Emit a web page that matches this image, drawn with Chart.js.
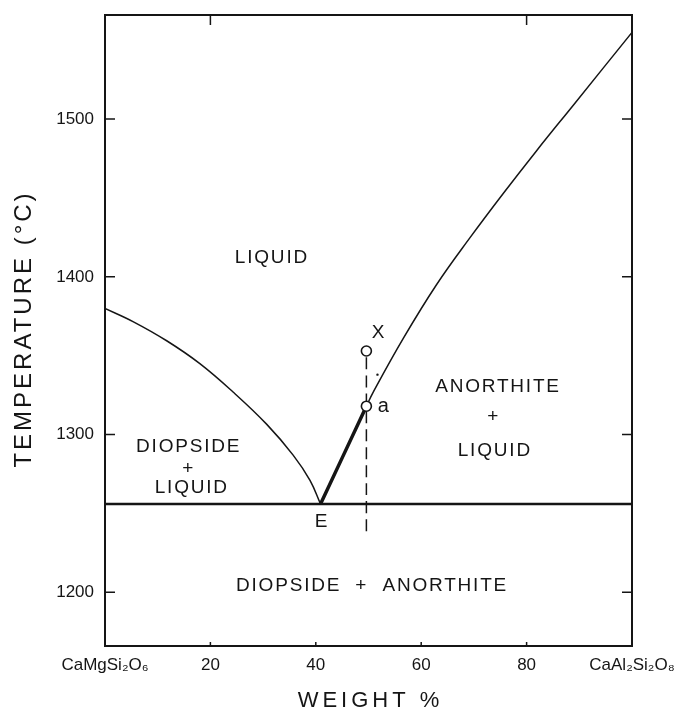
<!DOCTYPE html>
<html>
<head>
<meta charset="utf-8">
<script src="https://cdn.jsdelivr.net/npm/chart.js@4.4.1/dist/chart.umd.min.js"></script>
<style>
  html, body { margin: 0; padding: 0; background: #fff; }
  #wrap { width: 692px; height: 713px; }
</style>
</head>
<body>
<div id="wrap"><canvas id="phaseChart" width="692" height="713"></canvas></div>
<script>
  // axis ticks
  const xTickValues = [0, 20, 40, 60, 80, 100];
  const xTickLabels = ['CaMgSi₂O₆', '20', '40', '60', '80', 'CaAl₂Si₂O₈'];
  const yTickValues = [1200, 1300, 1400, 1500];

  // diopside liquidus (wt % anorthite, temperature °C)
  const diopsideLiqX = [0, 5.4, 11.7, 18.0, 24.3, 30.7, 35.7, 38.9, 40.9];
  const diopsideLiqT = [1380, 1371.5, 1359.5, 1345, 1327, 1306.5, 1287, 1271, 1256];

  // anorthite liquidus: thick part E -> a, thin part a -> pure anorthite
  const cotecticX = [40.9, 49.6];
  const cotecticT = [1256, 1318];
  const anorthiteLiqX = [49.6, 50.9, 56.6, 62.9, 69.3, 75.6, 81.9, 88.9, 100];
  const anorthiteLiqT = [1318, 1327, 1361, 1395, 1425, 1453, 1480, 1509, 1555];

  // eutectic (solidus) temperature
  const solidusX = [0, 100];
  const solidusT = [1256, 1256];

  // bulk composition X and point a, and the dashed isopleth
  const bulkX = [49.6, 49.6];
  const bulkT = [1353, 1318];
  const isoplethX = [49.6, 49.6];
  const isoplethT = [1349, 1237];
  const dotX = [51.7];
  const dotT = [1338];

  const toPts = (xs, ys) => xs.map((x, i) => ({ x: x, y: ys[i] }));

  const INK = '#151515';
  const FONT = '"Liberation Sans", "DejaVu Sans", sans-serif';

  // frame, inward ticks, region labels and axis titles
  const diagramPlugin = {
    id: 'diagram',
    afterDraw(chart) {
      const ctx = chart.ctx;
      const a = chart.chartArea;
      const xs = chart.scales.x, ys = chart.scales.y;
      ctx.save();
      ctx.strokeStyle = INK;
      ctx.lineWidth = 2;
      ctx.strokeRect(a.left, a.top, a.right - a.left, a.bottom - a.top);

      ctx.beginPath();
      yTickValues.forEach(v => {
        const py = ys.getPixelForValue(v);
        ctx.moveTo(a.left, py); ctx.lineTo(a.left + 10, py);
        ctx.moveTo(a.right, py); ctx.lineTo(a.right - 10, py);
      });
      [20, 80].forEach(v => {
        const px = xs.getPixelForValue(v);
        ctx.moveTo(px, a.top); ctx.lineTo(px, a.top + 10);
      });
      [20, 40, 60, 80].forEach(v => {
        const px = xs.getPixelForValue(v);
        ctx.moveTo(px, a.bottom); ctx.lineTo(px, a.bottom - 4);
      });
      ctx.lineWidth = 1.5;
      ctx.stroke();

      ctx.fillStyle = INK;
      ctx.textAlign = 'center';
      ctx.textBaseline = 'middle';
      const put = (txt, x, y, size, sp) => {
        ctx.font = size + 'px ' + FONT;
        ctx.letterSpacing = sp + 'px';
        ctx.fillText(txt, x + sp / 2, y);
      };
      const labels = [
        ['LIQUID', 31.5, 1412],
        ['DIOPSIDE', 15.7, 1292], ['+', 15.7, 1278.5], ['LIQUID', 16.3, 1266.5],
        ['ANORTHITE', 74.4, 1330.5], ['+', 73.6, 1311.5], ['LIQUID', 73.8, 1290],
        ['DIOPSIDE  +  ANORTHITE', 50.5, 1204.5]
      ];
      labels.forEach(l => put(l[0], xs.getPixelForValue(l[1]), ys.getPixelForValue(l[2]), 19, 1.8));
      put('E', xs.getPixelForValue(41.0), ys.getPixelForValue(1245), 19, 0);
      put('X', xs.getPixelForValue(51.8), ys.getPixelForValue(1364.5), 19, 0);
      put('a', xs.getPixelForValue(52.8), ys.getPixelForValue(1318), 20, 0);

      put('WEIGHT %', (a.left + a.right) / 2, 701, 22, 4);
      ctx.translate(24, (a.top + a.bottom) / 2);
      ctx.rotate(-Math.PI / 2);
      put('TEMPERATURE (°C)', 0, 0, 24, 3);
      ctx.restore();
    }
  };

  const lineSet = (data, width, extra) => Object.assign({
    data: data,
    showLine: true,
    borderColor: INK,
    borderWidth: width,
    pointRadius: 0,
    tension: 0.4,
    fill: false
  }, extra || {});

  new Chart(document.getElementById('phaseChart'), {
    type: 'scatter',
    data: {
      datasets: [
        {
          data: toPts(bulkX, bulkT),
          showLine: false,
          pointRadius: 5,
          pointBackgroundColor: '#fff',
          pointBorderColor: INK,
          pointBorderWidth: 1.6
        },
        { data: toPts(dotX, dotT), showLine: false, pointRadius: 1.2, pointBackgroundColor: INK, pointBorderWidth: 0 },
        lineSet(toPts(isoplethX, isoplethT), 1.5, { borderDash: [12, 6] }),
        lineSet(toPts(cotecticX, cotecticT), 3.5),
        lineSet(toPts(anorthiteLiqX, anorthiteLiqT), 1.5),
        lineSet(toPts(diopsideLiqX, diopsideLiqT), 1.5),
        lineSet(toPts(solidusX, solidusT), 2.5)
      ]
    },
    options: {
      responsive: false,
      animation: false,
      layout: { padding: { top: 15, right: 60, left: 0, bottom: 0 } },
      plugins: { legend: { display: false }, tooltip: { enabled: false } },
      scales: {
        x: {
          type: 'linear',
          min: 0,
          max: 100,
          afterBuildTicks: s => { s.ticks = xTickValues.map(v => ({ value: v })); },
          afterFit: s => { s.height = 67; s.paddingLeft = 0; s.paddingRight = 0; },
          grid: { display: false, drawTicks: false },
          border: { display: false },
          ticks: {
            autoSkip: false,
            maxRotation: 0,
            padding: 9,
            color: INK,
            font: { family: FONT, size: 17 },
            callback: v => xTickLabels[xTickValues.indexOf(v)]
          }
        },
        y: {
          type: 'linear',
          min: 1166,
          max: 1566,
          afterBuildTicks: s => { s.ticks = yTickValues.map(v => ({ value: v })); },
          afterFit: s => { s.width = 105; s.paddingTop = 0; s.paddingBottom = 0; },
          grid: { display: false, drawTicks: false },
          border: { display: false },
          ticks: {
            padding: 11,
            color: INK,
            font: { family: FONT, size: 17 },
            callback: v => String(v)
          }
        }
      }
    },
    plugins: [diagramPlugin]
  });
</script>
</body>
</html>
